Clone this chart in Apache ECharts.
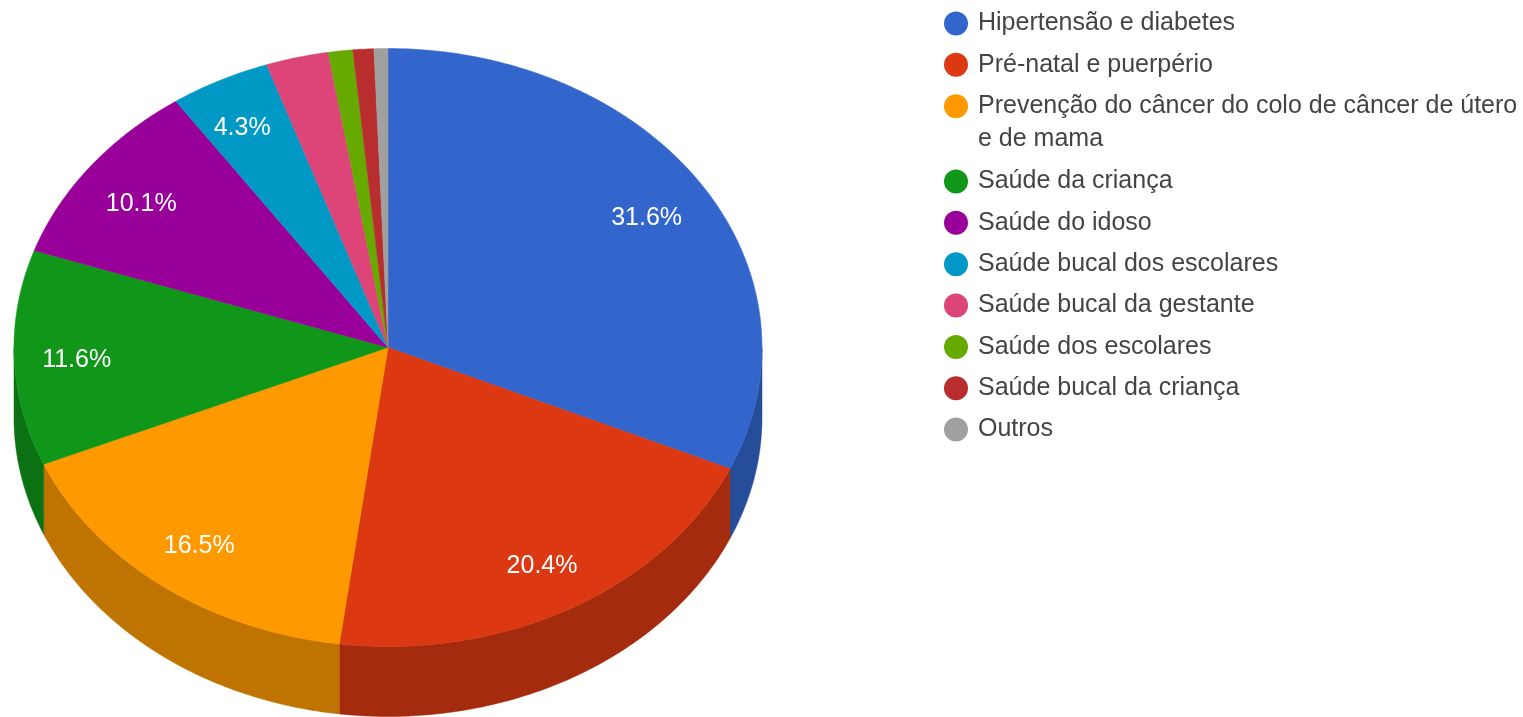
<!DOCTYPE html>
<html><head><meta charset="utf-8">
<style>html,body{margin:0;padding:0;background:#fff;overflow:hidden}#c{width:1523px;height:717px}</style>
<script src="https://cdn.jsdelivr.net/npm/echarts@6/dist/echarts.min.js"></script>
</head><body><div id="c"></div>
<script>
const categories = ['Hipertensão e diabetes','Pré-natal e puerpério','Prevenção do câncer do colo de câncer de útero e de mama','Saúde da criança','Saúde do idoso','Saúde bucal dos escolares','Saúde bucal da gestante','Saúde dos escolares','Saúde bucal da criança','Outros'];
const values = [31.64,20.44,16.54,11.64,10.14,4.34,2.7,1.06,0.9,0.6];
const colors = ['#3366cc','#dc3912','#ff9900','#109618','#990099','#0099c6','#dd4477','#66aa00','#b82e2e','#a0a0a0'];
const sideColors = ['#264d99','#a52b0e','#bf7300','#0c7112','#730073','#007395','#a63359','#4d8000','#8a2222','#787878'];

const cx = 388, cy = 347.5, rx = 374, ry = 299, depth = 70, labelR = 0.825, labelDy = 2;
const labelNudgeX = [0, 3, -2, -3, -1, -7];
const labelNudgeY = [3, 2, 0, 2, 4, -1];
const font = '25px "Liberation Sans", Arial, sans-serif';
const total = values.reduce((a, b) => a + b, 0);
const toAngle = v => v / total * Math.PI * 2;
const pt = (t, f, dy) => [cx + rx * f * Math.sin(t), cy - ry * f * Math.cos(t) + (dy || 0)];
const arc = (a, b, dy) => {
  const n = Math.max(2, Math.ceil((b - a) / 0.01)), out = [];
  for (let i = 0; i <= n; i++) out.push(pt(a + (b - a) * i / n, 1, dy));
  return out;
};

const series = categories.map((name, i) => {
  const before = values.slice(0, i).reduce((a, b) => a + b, 0);
  return {
    type: 'custom', name, coordinateSystem: 'none', animation: false, silent: true,
    itemStyle: { color: colors[i] },
    data: [{ name, value: values[i] }],
    renderItem(params, api) {
      const a = toAngle(before), b = a + toAngle(api.value(0));
      const children = [];
      const wa = Math.max(a, Math.PI / 2), wb = Math.min(b, Math.PI * 1.5);
      if (wb > wa) {
        const top = arc(wa, wb, 0), bottom = arc(wa, wb, depth).reverse();
        children.push({ type: 'polygon', shape: { points: top.concat(bottom) },
          style: { fill: sideColors[i], stroke: sideColors[i], lineWidth: 0.5 } });
      }
      children.push({ type: 'polygon', shape: { points: [[cx, cy]].concat(arc(a, b, 0)) },
        style: { fill: colors[i], stroke: colors[i], lineWidth: 0.5 } });
      if (values[i] >= 4) {
        const p = pt((a + b) / 2, labelR, labelDy);
        children.push({ type: 'text', x: p[0] + labelNudgeX[i], y: p[1] + labelNudgeY[i], z2: 10,
          style: { text: values[i].toFixed(1) + '%', fill: '#fff', align: 'center', verticalAlign: 'middle', font } });
      }
      return { type: 'group', children };
    }
  };
});

const legendBase = {
  orient: 'vertical', left: 944, itemWidth: 24, itemHeight: 24, itemGap: 16.35, icon: 'circle',
  selectedMode: false, padding: 0,
  textStyle: { color: '#444', fontSize: 25, fontFamily: '"Liberation Sans", Arial, sans-serif', padding: [3, 0, 0, 5] },
};
const wrapFirst = 'Prevenção do câncer do colo de câncer de útero', wrapSecond = 'e de mama';

const chart = echarts.init(document.getElementById('c'), null, { renderer: 'canvas' });
chart.setOption({
  animation: false,
  backgroundColor: '#fff',
  tooltip: { show: false },
  legend: [
    Object.assign({}, legendBase, { top: 11, data: categories.slice(0, 3),
      formatter: n => n === categories[2] ? wrapFirst : n }),
    Object.assign({}, legendBase, { top: 169, data: categories.slice(3) })
  ],
  graphic: [{ type: 'text', left: 978, top: 127, silent: true,
    style: { text: wrapSecond, fill: '#444', font } }],
  series
});
</script></body></html>
